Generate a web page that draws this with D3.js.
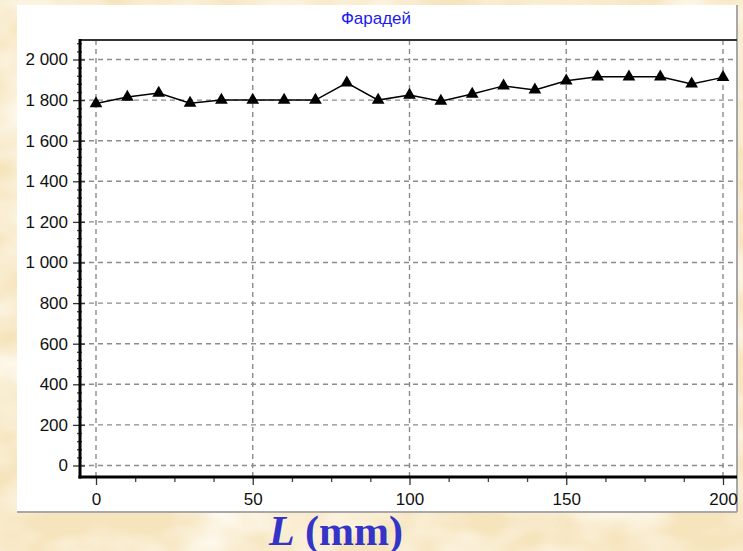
<!DOCTYPE html>
<html><head><meta charset="utf-8">
<script src="https://cdn.jsdelivr.net/npm/d3@7"></script>
<style>html,body{margin:0;padding:0;background:#f7e8c6;} svg{display:block}</style>
</head><body><svg id="c" width="743" height="551"></svg>
<script>
// ---- data ----
const xValues = [0,10,20,30,40,50,60,70,80,90,100,110,120,130,140,150,160,170,180,190,200];
const yValues = [1783,1815,1835,1785,1800,1800,1800,1800,1885,1800,1825,1795,1830,1870,1850,1895,1915,1915,1915,1880,1912];
const yTicks = [0,200,400,600,800,1000,1200,1400,1600,1800,2000];
const xTicks = [0,50,100,150,200];
const title = "Фарадей";
const xLabelVar = "L";
const xLabelUnit = " (mm)";

// ---- layout ----
const svg = d3.select("#c");
const W = 743, H = 551;
const panel = {x0:17, y0:5, x1:737, y1:512};
const plot = {left:80, top:40, right:737, bottom:477};

const x = d3.scaleLinear().domain([0,200]).range([96,723]);
const y = d3.scaleLinear().domain([0,2000]).range([465.5,59.5]);

// background parchment
const defs = svg.append("defs");
const f = defs.append("filter").attr("id","paper").attr("x",0).attr("y",0).attr("width","100%").attr("height","100%");
f.append("feTurbulence").attr("type","fractalNoise").attr("baseFrequency","0.012 0.02").attr("numOctaves",3).attr("seed",7);
f.append("feColorMatrix").attr("type","matrix")
 .attr("values","0 0 0 0 1  0 0 0 0 0.975  0 0 0 0 0.91  2.0 0 0 0 -0.7");
svg.append("rect").attr("width",W).attr("height",H).attr("fill","#f6e4bd");
svg.append("rect").attr("width",W).attr("height",H).attr("filter","url(#paper)");

// white panel
svg.append("rect").attr("x",panel.x0).attr("y",panel.y0)
  .attr("width",panel.x1-panel.x0).attr("height",panel.y1-panel.y0).attr("fill","#fff");
svg.append("line").attr("x1",panel.x0).attr("x2",panel.x1).attr("y1",panel.y1).attr("y2",panel.y1)
  .attr("stroke","#a8a8a8").attr("stroke-width",2);
svg.append("line").attr("x1",panel.x1).attr("x2",panel.x1).attr("y1",panel.y0).attr("y2",panel.y1)
  .attr("stroke","#a8a8a8").attr("stroke-width",2);

// title
svg.append("text").attr("x",376).attr("y",24).attr("text-anchor","middle")
  .attr("font-family","Liberation Sans, Arial, sans-serif").attr("font-size",17)
  .attr("fill","#1c1cf0").text(title);

// gridlines
const grid = svg.append("g").attr("stroke","#8c8c8c").attr("stroke-width",1.4).attr("stroke-dasharray","5,4");
grid.selectAll(".gy").data(yTicks).join("line")
  .attr("x1",plot.left).attr("x2",plot.right).attr("y1",d=>y(d)).attr("y2",d=>y(d));
grid.selectAll(".gx").data(xTicks).join("line")
  .attr("y1",plot.top).attr("y2",plot.bottom).attr("x1",d=>x(d)).attr("x2",d=>x(d));

// axes
const fmt = d => d3.format(",")(d).replace(/,/g," ");
const yAxis = svg.append("g").attr("transform",`translate(${plot.left},0)`)
  .call(d3.axisLeft(y).tickValues(yTicks).tickFormat(fmt).tickSize(7).tickPadding(5));
yAxis.select(".domain").remove();
yAxis.selectAll("text").attr("font-family","Liberation Sans, Arial, sans-serif").attr("font-size",17).attr("fill","#111");
yAxis.selectAll(".tick line").attr("x2",-7).attr("x1",5).attr("stroke","#333").attr("stroke-width",1.3);

const yMinor = d3.range(40,2081,40).filter(v=>v%200!==0);
const yAxisMinor = svg.append("g").attr("transform",`translate(${plot.left},0)`)
  .call(d3.axisLeft(y).tickValues(yMinor).tickFormat("").tickSize(3));
yAxisMinor.select(".domain").remove();
yAxisMinor.selectAll(".tick line").attr("x1",2).attr("stroke","#444").attr("stroke-width",1.3);

const xAxis = svg.append("g").attr("transform",`translate(0,${plot.bottom})`)
  .call(d3.axisBottom(x).tickValues(xTicks).tickSize(8).tickPadding(8));
xAxis.select(".domain").remove();
xAxis.selectAll("text").attr("font-family","Liberation Sans, Arial, sans-serif").attr("font-size",17).attr("fill","#111");
xAxis.selectAll(".tick line").attr("stroke","#333").attr("stroke-width",1.3);

const xMinor = d3.range(-12.5,205,12.5).filter(v=>v%50!==0 && v>=-5);
const xAxisMinor = svg.append("g").attr("transform",`translate(0,${plot.bottom})`)
  .call(d3.axisBottom(x).tickValues(xMinor).tickFormat("").tickSize(5));
xAxisMinor.select(".domain").remove();
xAxisMinor.selectAll(".tick line").attr("stroke","#444").attr("stroke-width",1.3);

// frame lines
svg.append("line").attr("x1",plot.left).attr("x2",plot.right).attr("y1",plot.top).attr("y2",plot.top)
  .attr("stroke","#333").attr("stroke-width",2);
svg.append("line").attr("x1",plot.left).attr("x2",plot.left).attr("y1",plot.top-1).attr("y2",plot.bottom+1.5)
  .attr("stroke","#000").attr("stroke-width",3);
svg.append("line").attr("x1",plot.left-1.5).attr("x2",plot.right).attr("y1",plot.bottom).attr("y2",plot.bottom)
  .attr("stroke","#000").attr("stroke-width",3);

// series
const pts = xValues.map((v,i)=>[v,yValues[i]]);
svg.append("path").datum(pts)
  .attr("d",d3.line().x(d=>x(d[0])).y(d=>y(d[1])))
  .attr("fill","none").attr("stroke","#000").attr("stroke-width",1.5);
svg.selectAll(".mk").data(pts).join("path")
  .attr("transform",d=>`translate(${x(d[0])},${y(d[1])})`)
  .attr("d",d3.symbol(d3.symbolTriangle).size(70)).attr("fill","#000");

// x label
const xl = svg.append("text").attr("x",336).attr("y",545).attr("text-anchor","middle")
  .attr("font-family","Liberation Serif, Times New Roman, serif").attr("font-weight","bold")
  .attr("font-size",42).attr("fill","#3434c8");
xl.append("tspan").attr("font-style","italic").text(xLabelVar);
xl.append("tspan").text(xLabelUnit);
</script></body></html>
